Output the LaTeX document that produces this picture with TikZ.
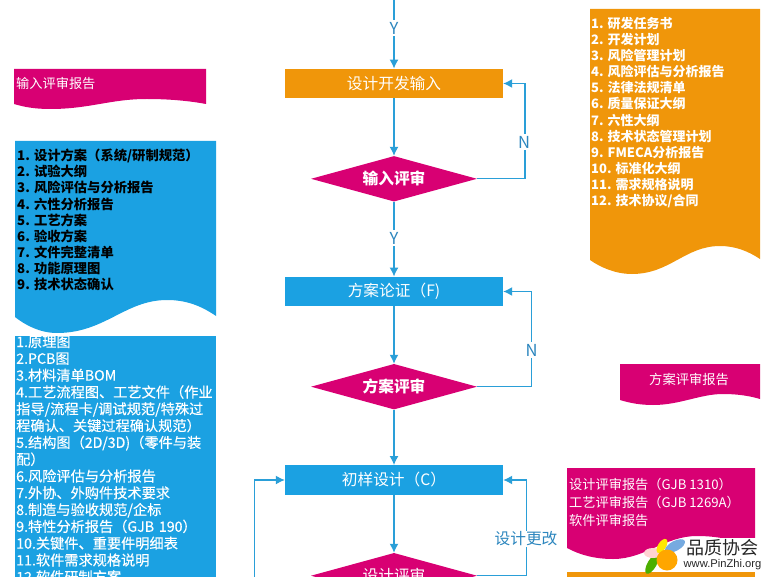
\documentclass[tikz,border=0pt]{standalone}
\usepackage{fontspec}
\setmainfont{Noto Sans CJK SC}
\newfontfamily\logofont{Liberation Sans}
\newfontfamily\listfont[FakeBold=0.35]{Noto Sans CJK SC}
\usetikzlibrary{arrows.meta,shapes.geometric}
\definecolor{cblue}{HTML}{1BA1E2}
\definecolor{corange}{HTML}{F0960A}
\definecolor{cpink}{HTML}{D80073}
\definecolor{cline}{HTML}{2A9FD8}
\definecolor{ctext}{HTML}{2C86BE}
\tikzset{
 flowbox/.style={draw=none,minimum width=218pt,minimum height=29.5pt,inner sep=0pt,text=white,font=\fontsize{15.7}{18}\selectfont},
 decide/.style={diamond,aspect=3.7,fill=cpink,draw=none,minimum width=166pt,minimum height=45.5pt,inner sep=0pt,text=white,font=\fontsize{15.7}{18}\selectfont},
 conn/.style={draw=cline,line width=1.3pt,-{Latex[length=9pt,width=9pt]}},
 lab/.style={fill=white,text=ctext,inner sep=2pt,font=\fontsize{16.5}{18}\selectfont},
 doctext/.style={anchor=north west,inner sep=0pt,align=left,text=white},
}
\begin{document}
\begin{tikzpicture}[x=1pt,y=-1pt]
\useasboundingbox (0,0) rectangle (770,577);
\clip (0,0) rectangle (770,577);
% documents
\fill[cpink] (14,69) -- (206,69) -- (206,104) .. controls (190,101) and (170,99) .. (147,99) .. controls (110,99) and (90,109) .. (50,109) .. controls (35,109) and (24,107) .. (14,104) -- cycle;
\fill[cblue] (15,141) -- (216,141) -- (216,316) .. controls (200,305) and (185,300) .. (167,300) .. controls (125,300) and (105,333) .. (57,333) .. controls (40,333) and (25,325) .. (15,317) -- cycle;
\fill[cblue] (15,336) rectangle (216,577);
\fill[corange] (590,9) -- (760,9) -- (760,259) .. controls (748,251) and (735,246) .. (720,246) .. controls (685,246) and (670,274) .. (632,274) .. controls (615,274) and (600,267) .. (590,260) -- cycle;
\fill[cpink] (620,364) -- (760,364) -- (760,399) .. controls (750,396) and (738,394) .. (723,394) .. controls (700,394) and (680,405) .. (653,405) .. controls (640,405) and (630,403) .. (620,400) -- cycle;
\fill[cpink] (567,468) -- (755,468) -- (755,549) .. controls (740,541) and (720,536) .. (697,536) .. controls (665,536) and (645,559) .. (613,559) .. controls (595,559) and (580,555) .. (567,548) -- cycle;
\fill[corange] (567,572) rectangle (755,577);
% document texts
\node[doctext,font=\fontsize{13.2}{16}\selectfont] (t1) at (16,77) {输入评审报告};
\node[doctext,text=black,font=\fontsize{13.3}{16.1}\bfseries\selectfont] (t2) at (17,149) {1. 设计方案（系统/研制规范）\\2. 试验大纲\\3. 风险评估与分析报告\\4. 六性分析报告\\5. 工艺方案\\6. 验收方案\\7. 文件完整清单\\8. 功能原理图\\9. 技术状态确认};
\node[doctext,text width=199pt,font=\listfont\fontsize{14.2}{16.8}\selectfont] (t3) at (16,335.5) {1.原理图\\2.PCB图\\3.材料清单BOM\\4.工艺流程图、工艺文件（作业\\指导/流程卡/调试规范/特殊过\\程确认、关键过程确认规范）\\5.结构图（2D/3D)（零件与装\\配）\\6.风险评估与分析报告\\7.外协、外购件技术要求\\8.制造与验收规范/企标\\9.特性分析报告（GJB 190）\\10.关键件、重要件明细表\\11.软件需求规格说明\\12.软件研制方案};
\node[doctext,font=\fontsize{13}{16.1}\bfseries\selectfont] (t4) at (591,17) {1. 研发任务书\\2. 开发计划\\3. 风险管理计划\\4. 风险评估与分析报告\\5. 法律法规清单\\6. 质量保证大纲\\7. 六性大纲\\8. 技术状态管理计划\\9. FMECA分析报告\\10. 标准化大纲\\11. 需求规格说明\\12. 技术协议/合同};
\node[doctext,font=\fontsize{13.3}{16}\selectfont] (t5) at (649,373) {方案评审报告};
\node[doctext,font=\fontsize{13.2}{18}\selectfont] (t6) at (569,478) {设计评审报告（GJB 1310）\\工艺评审报告（GJB 1269A）\\软件评审报告};
% flow
\coordinate (top) at (394,0);
\node[flowbox,fill=corange] (input) at (394,83.5) {设计开发输入};
\node[decide] (inrev) at (394,178.8) {\bfseries 输入评审};
\node[flowbox,fill=cblue] (scheme) at (394,291.5) {方案论证（F)};
\node[decide] (schrev) at (394,386.7) {\bfseries 方案评审};
\node[flowbox,fill=cblue] (proto) at (394,480) {初样设计（C）};
\node[decide] (desrev) at (394,575.7) {设计评审};
\coordinate (lb) at (254.7,577);
\draw[conn] (top) -- (input.north);
\draw[conn] (input.south) -- (inrev.north);
\draw[conn] (inrev.south) -- (scheme.north);
\draw[conn] (scheme.south) -- (schrev.north);
\draw[conn] (schrev.south) -- (proto.north);
\draw[conn] (proto.south) -- (desrev.north);
\draw[conn] (inrev.east) -- (525,178.8) -- (525,83.5) -- (input.east);
\draw[conn] (schrev.east) -- (531.7,386.7) -- (531.7,291.5) -- (scheme.east);
\draw[conn] (desrev.east) -- (526.7,575.7) -- (526.7,480) -- (proto.east);
\draw[conn] (lb) -- (254.7,480) -- (proto.west);
\node[lab] (y1) at (394,28) {Y};
\node[lab] (y2) at (394,238) {Y};
\node[lab] (n1) at (524,142) {N};
\node[lab] (n2) at (531.7,350) {N};
\node[lab,inner sep=1pt,font=\fontsize{15.7}{18}\selectfont] (chg) at (526,539) {设计更改};
% logo
\fill[white] (683,538) rectangle (757,572);
\fill[green!55!black!70!yellow,rotate around={-30:(652,564)}] (652,564) ellipse (4.5 and 11);
\fill[pink!70!white] (653,553) ellipse (9 and 5);
\fill[yellow!90!orange,rotate around={-32:(662,546)}] (662,546) ellipse (4 and 8);
\fill[cyan!60!blue!55,rotate around={28:(675,546)}] (675,546) ellipse (11 and 5);
\fill[orange!70!yellow] (667,560) circle (10.5);
\node[inner sep=0pt,text=black!85,font=\fontsize{18}{20}\selectfont] (logoa) at (722.5,548) {品质协会};
\node[inner sep=0pt,text=black!85,font=\logofont\fontsize{11.2}{12}\selectfont] (logob) at (722.5,565) {www.PinZhi.org};
\end{tikzpicture}
\end{document}
